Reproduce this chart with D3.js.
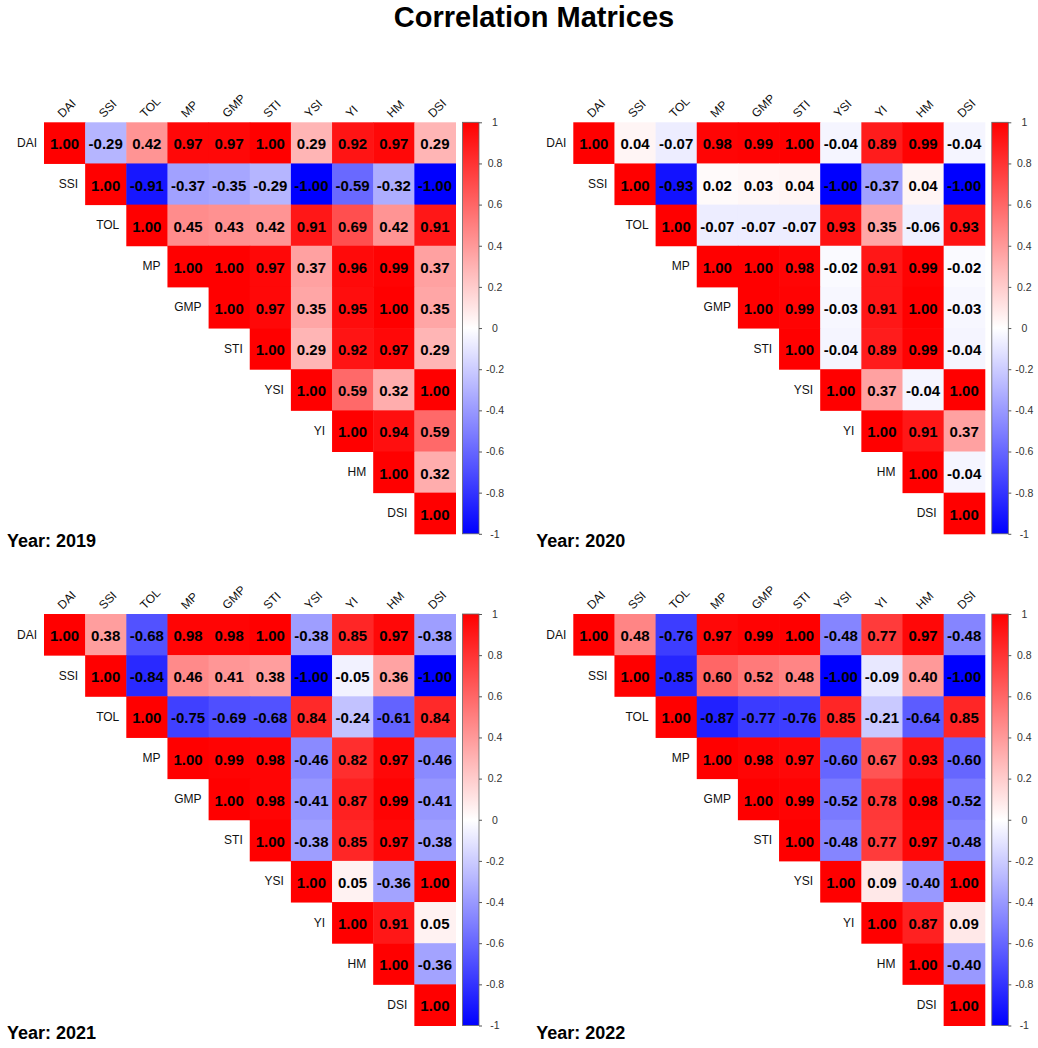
<!DOCTYPE html>
<html>
<head>
<meta charset="utf-8">
<script src="https://cdn.jsdelivr.net/npm/d3@7"></script>
<style>
  body { margin: 0; background: #fff; }
  svg { font-family: Arial, "Liberation Sans", sans-serif; }
</style>
</head>
<body>
<svg id="chart" width="1038" height="1048"></svg>
<script>
// variable names (rows and columns)
const vars = ["DAI", "SSI", "TOL", "MP", "GMP", "STI", "YSI", "YI", "HM", "DSI"];

// upper triangles, row by row, starting at the diagonal
const corr2019 = [
  [1.00, -0.29, 0.42, 0.97, 0.97, 1.00, 0.29, 0.92, 0.97, 0.29],
  [1.00, -0.91, -0.37, -0.35, -0.29, -1.00, -0.59, -0.32, -1.00],
  [1.00, 0.45, 0.43, 0.42, 0.91, 0.69, 0.42, 0.91],
  [1.00, 1.00, 0.97, 0.37, 0.96, 0.99, 0.37],
  [1.00, 0.97, 0.35, 0.95, 1.00, 0.35],
  [1.00, 0.29, 0.92, 0.97, 0.29],
  [1.00, 0.59, 0.32, 1.00],
  [1.00, 0.94, 0.59],
  [1.00, 0.32],
  [1.00]
];
const corr2020 = [
  [1.00, 0.04, -0.07, 0.98, 0.99, 1.00, -0.04, 0.89, 0.99, -0.04],
  [1.00, -0.93, 0.02, 0.03, 0.04, -1.00, -0.37, 0.04, -1.00],
  [1.00, -0.07, -0.07, -0.07, 0.93, 0.35, -0.06, 0.93],
  [1.00, 1.00, 0.98, -0.02, 0.91, 0.99, -0.02],
  [1.00, 0.99, -0.03, 0.91, 1.00, -0.03],
  [1.00, -0.04, 0.89, 0.99, -0.04],
  [1.00, 0.37, -0.04, 1.00],
  [1.00, 0.91, 0.37],
  [1.00, -0.04],
  [1.00]
];
const corr2021 = [
  [1.00, 0.38, -0.68, 0.98, 0.98, 1.00, -0.38, 0.85, 0.97, -0.38],
  [1.00, -0.84, 0.46, 0.41, 0.38, -1.00, -0.05, 0.36, -1.00],
  [1.00, -0.75, -0.69, -0.68, 0.84, -0.24, -0.61, 0.84],
  [1.00, 0.99, 0.98, -0.46, 0.82, 0.97, -0.46],
  [1.00, 0.98, -0.41, 0.87, 0.99, -0.41],
  [1.00, -0.38, 0.85, 0.97, -0.38],
  [1.00, 0.05, -0.36, 1.00],
  [1.00, 0.91, 0.05],
  [1.00, -0.36],
  [1.00]
];
const corr2022 = [
  [1.00, 0.48, -0.76, 0.97, 0.99, 1.00, -0.48, 0.77, 0.97, -0.48],
  [1.00, -0.85, 0.60, 0.52, 0.48, -1.00, -0.09, 0.40, -1.00],
  [1.00, -0.87, -0.77, -0.76, 0.85, -0.21, -0.64, 0.85],
  [1.00, 0.98, 0.97, -0.60, 0.67, 0.93, -0.60],
  [1.00, 0.99, -0.52, 0.78, 0.98, -0.52],
  [1.00, -0.48, 0.77, 0.97, -0.48],
  [1.00, 0.09, -0.40, 1.00],
  [1.00, 0.87, 0.09],
  [1.00, -0.40],
  [1.00]
];
const years = ["2019", "2020", "2021", "2022"];
const legendTicks = [-1, -0.8, -0.6, -0.4, -0.2, 0, 0.2, 0.4, 0.6, 0.8, 1];

const panels = [
  { year: years[0], m: corr2019, x0: 44, y0: 122.3 },
  { year: years[1], m: corr2020, x0: 573.3, y0: 122.3 },
  { year: years[2], m: corr2021, x0: 44, y0: 614 },
  { year: years[3], m: corr2022, x0: 573.3, y0: 614 }
];

const cell = 41.15;
const side = cell * vars.length;

const svg = d3.select("#chart");

const color = d3.scaleLinear()
  .domain([-1, 0, 1])
  .range(["#0000ff", "#ffffff", "#ff0000"]);

// gradient for the colour bars
const grad = svg.append("defs").append("linearGradient")
  .attr("id", "cbar")
  .attr("x1", 0).attr("y1", 1).attr("x2", 0).attr("y2", 0);
d3.range(-1, 1.001, 0.1).forEach(v => {
  grad.append("stop")
    .attr("offset", `${(v + 1) / 2 * 100}%`)
    .attr("stop-color", color(v));
});

svg.append("text")
  .attr("x", 534)
  .attr("y", 27)
  .attr("text-anchor", "middle")
  .attr("font-size", 29)
  .attr("font-weight", "bold")
  .text("Correlation Matrices");

panels.forEach(p => {
  const g = svg.append("g").attr("transform", `translate(${p.x0},${p.y0})`);

  const x = d3.scaleBand().domain(vars).range([0, side]);
  const y = d3.scaleBand().domain(vars).range([0, side]);

  const cells = [];
  p.m.forEach((row, i) => {
    row.forEach((v, k) => {
      cells.push({ r: vars[i], c: vars[i + k], v: v });
    });
  });

  g.selectAll("rect.cell")
    .data(cells)
    .enter()
    .append("rect")
    .attr("class", "cell")
    .attr("x", d => x(d.c))
    .attr("y", d => y(d.r))
    .attr("width", x.bandwidth() + 0.5)
    .attr("height", y.bandwidth() + 0.5)
    .attr("fill", d => color(d.v));

  g.selectAll("text.val")
    .data(cells)
    .enter()
    .append("text")
    .attr("class", "val")
    .attr("x", d => x(d.c) + x.bandwidth() / 2)
    .attr("y", d => y(d.r) + y.bandwidth() / 2 + 1)
    .attr("text-anchor", "middle")
    .attr("dominant-baseline", "central")
    .attr("font-size", 15)
    .attr("font-weight", "bold")
    .attr("fill", "#000")
    .text(d => d3.format(".2f")(d.v).replace("−", "-"));

  // row labels sit just left of the diagonal
  g.selectAll("text.rowlab")
    .data(vars)
    .enter()
    .append("text")
    .attr("class", "rowlab")
    .attr("x", d => x(d) - 7)
    .attr("y", d => y(d) + y.bandwidth() / 2)
    .attr("text-anchor", "end")
    .attr("dominant-baseline", "central")
    .attr("font-size", 12)
    .attr("fill", "#111")
    .text(d => d);

  // column labels, rotated
  g.selectAll("text.collab")
    .data(vars)
    .enter()
    .append("text")
    .attr("class", "collab")
    .attr("transform", d => `translate(${x(d) + x.bandwidth() / 2 - 2},${-4}) rotate(-45)`)
    .attr("font-size", 12)
    .attr("fill", "#111")
    .text(d => d);

  // colour bar
  const cb = g.append("g").attr("transform", `translate(${side + 7},0)`);
  const cbW = 16.5;
  cb.append("rect")
    .attr("width", cbW)
    .attr("height", side)
    .attr("fill", "url(#cbar)")
    .attr("stroke", "#666")
    .attr("stroke-width", 0.8);

  const cScale = d3.scaleLinear().domain([-1, 1]).range([side, 0]);
  const ax = cb.append("g")
    .attr("transform", `translate(${cbW},0)`)
    .call(d3.axisRight(cScale).tickValues(legendTicks).tickSize(3).tickFormat(d => d3.format("")(d).replace("−", "-")));
  ax.select(".domain").remove();
  ax.selectAll(".tick line").attr("stroke", "#555");
  ax.selectAll(".tick text")
    .attr("x", 16)
    .attr("text-anchor", "middle")
    .attr("font-size", 10.5)
    .attr("font-family", "Arial, 'Liberation Sans', sans-serif")
    .attr("fill", "#333");

  g.append("text")
    .attr("x", -37)
    .attr("y", side + 13)
    .attr("font-size", 18)
    .attr("font-weight", "bold")
    .text(`Year: ${p.year}`);
});
</script>
</body>
</html>
